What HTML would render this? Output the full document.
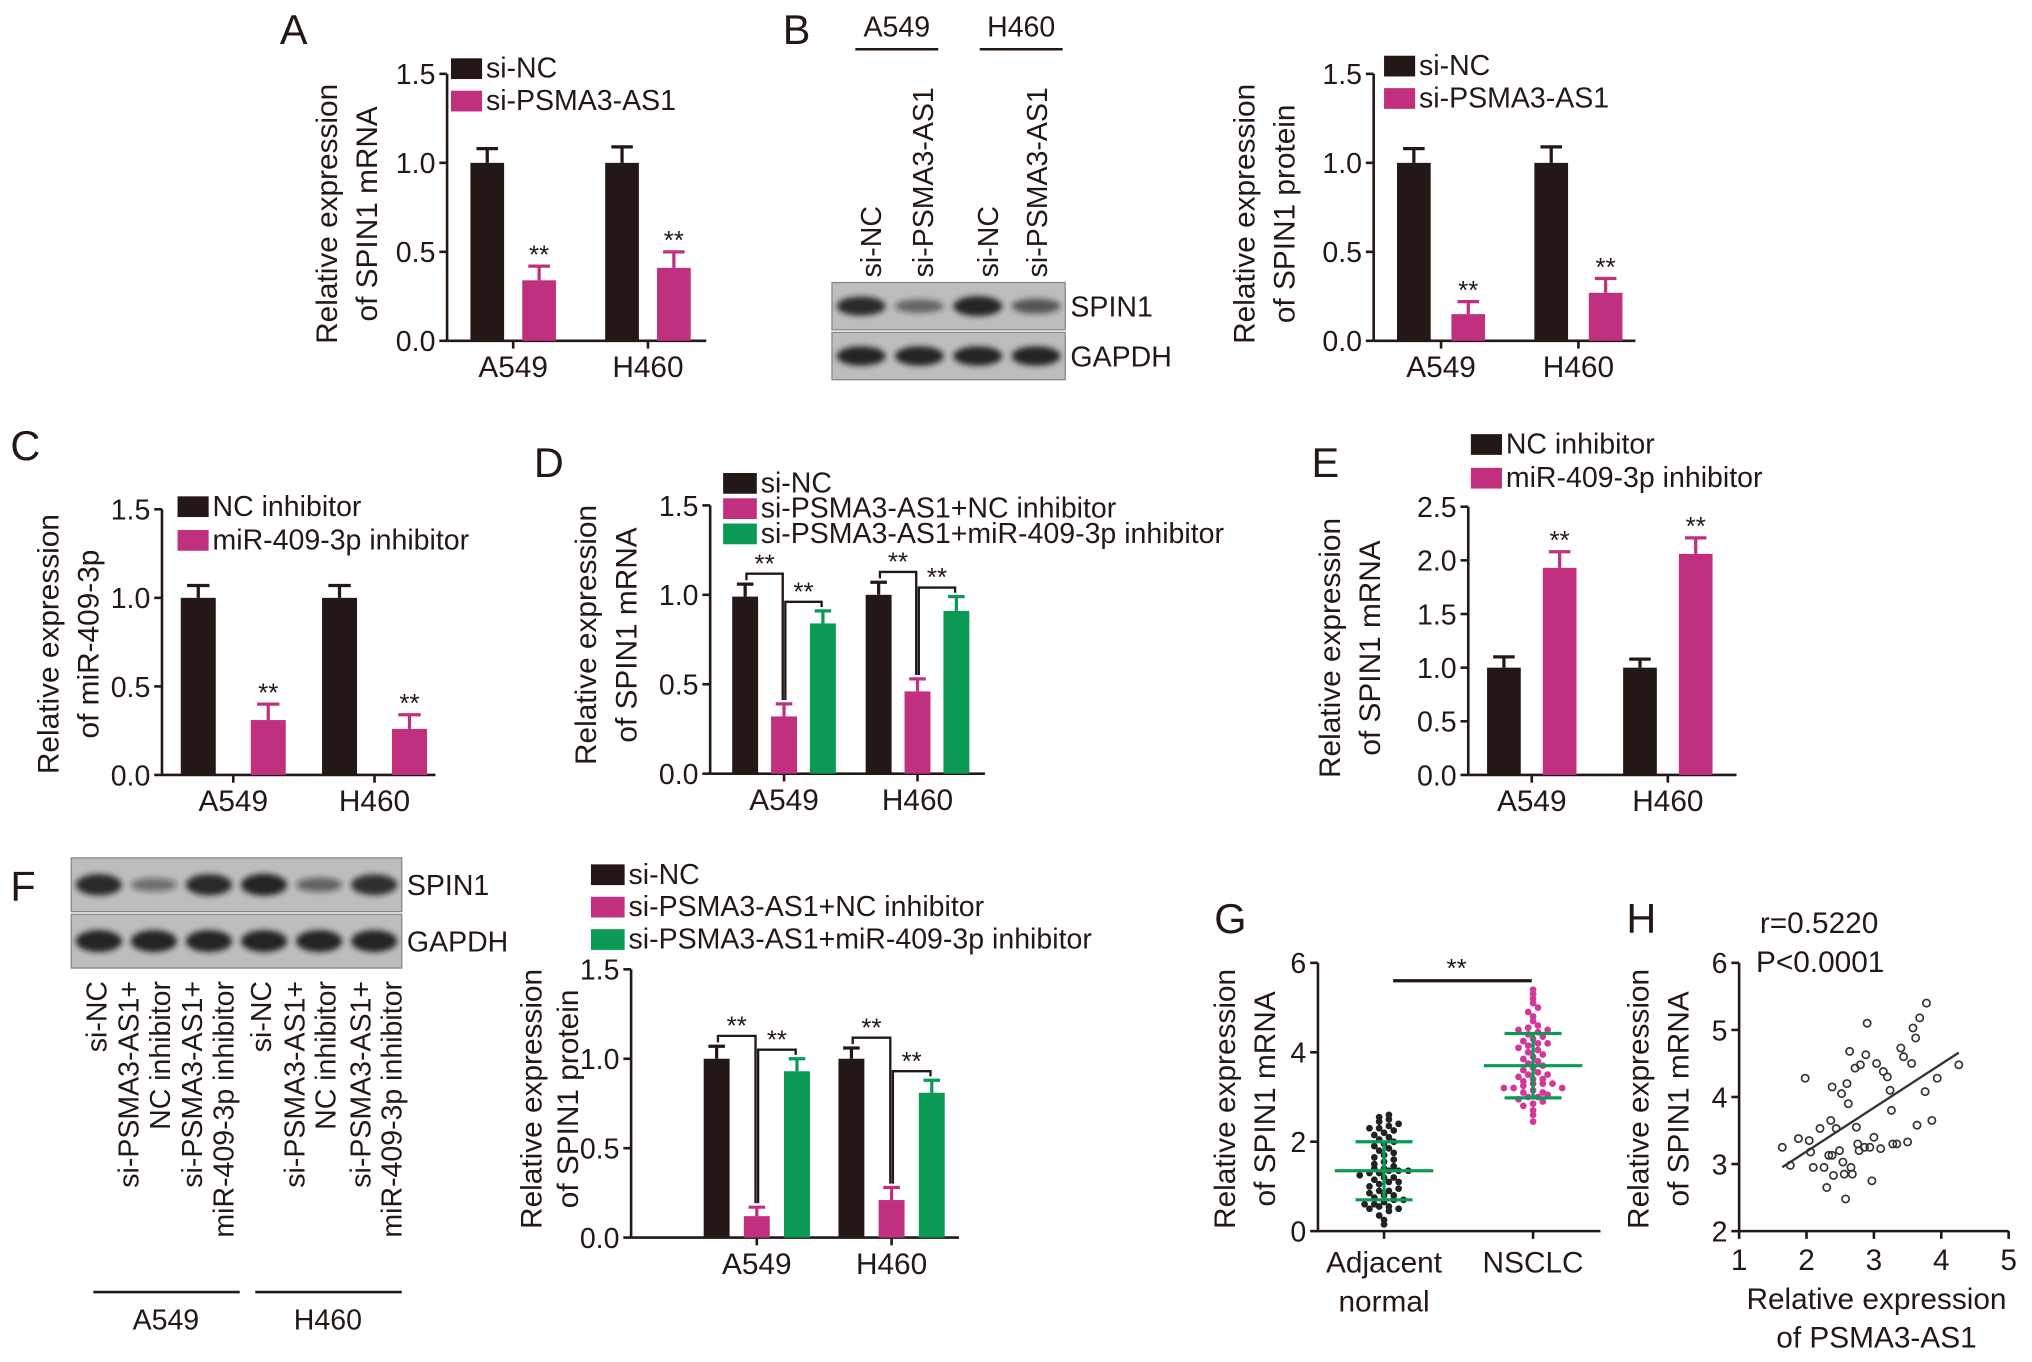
<!DOCTYPE html>
<html><head><meta charset="utf-8"><style>
html,body{margin:0;padding:0;background:#fff;}
svg{display:block;font-family:"Liberation Sans",Arial,sans-serif;}
</style></head><body>
<svg id="fig" width="2032" height="1362" viewBox="0 0 1568 1051" preserveAspectRatio="none" xmlns="http://www.w3.org/2000/svg">
<defs><filter id="blur" x="-20%" y="-50%" width="140%" height="200%"><feGaussianBlur stdDeviation="2.2"/></filter></defs>
<g id="root"></g>
</svg>
<script>
// ---------- DATA ----------
const groupsAB = ["A549","H460"];
const aNC = [1.0,1.0], aNCerr=[0.08,0.09], aSi=[0.34,0.41], aSiErr=[0.08,0.09];
const bNC = [1.0,1.0], bNCerr=[0.08,0.09], bSi=[0.15,0.27], bSiErr=[0.07,0.08];
const cNC = [1.0,1.0], cNCerr=[0.07,0.07], cInh=[0.31,0.26], cInhErr=[0.09,0.08];
const dNC = [0.99,1.0], dNCerr=[0.07,0.07], dSi=[0.32,0.46], dSiErr=[0.07,0.07], dRes=[0.84,0.91], dResErr=[0.07,0.08];
const eNC = [1.0,1.0], eNCerr=[0.1,0.08], eInh=[1.93,2.06], eInhErr=[0.15,0.15];
const fNC = [1.0,1.0], fNCerr=[0.07,0.06], fSi=[0.12,0.21], fSiErr=[0.05,0.07], fRes=[0.93,0.81], fResErr=[0.07,0.07];
const ticks15 = ["0.0","0.5","1.0","1.5"];
const ticks25 = ["0.0","0.5","1.0","1.5","2.0","2.5"];
const gAdjacent = [0.15,0.25,0.35,0.45,0.5,0.55,0.55,0.6,0.6,0.65,0.7,0.7,0.75,0.8,0.85,0.9,0.9,0.95,1.0,1.05,1.1,1.1,1.15,1.2,1.25,1.3,1.3,1.35,1.35,1.35,1.4,1.4,1.45,1.5,1.55,1.6,1.65,1.7,1.75,1.8,1.85,1.9,1.95,2.0,2.05,2.1,2.15,2.2,2.25,2.3,2.3,2.35,2.4,2.45,2.5,2.55,2.6,0.5,0.8,1.2];
const gNSCLC = [2.45,2.6,2.7,2.8,2.85,2.9,2.95,3.0,3.0,3.05,3.1,3.15,3.2,3.2,3.25,3.3,3.3,3.35,3.4,3.45,3.5,3.55,3.6,3.65,3.7,3.75,3.8,3.85,3.9,3.95,4.0,4.05,4.1,4.15,4.2,4.25,4.3,4.35,4.4,4.45,4.5,4.55,4.6,4.7,4.8,4.9,5.0,5.1,5.2,5.3,5.4,3.1,3.3,3.5,3.2,3.4,4.2,4.5];
const gMeans = [1.35,3.7], gSD=[0.65,0.72];
const gTicks = ["0","2","4","6"];
const hX = [1.64,1.76,1.88,1.98,2.04,2.06,2.10,2.2,2.26,2.30,2.33,2.36,2.38,2.38,2.40,2.44,2.49,2.52,2.54,2.56,2.58,2.60,2.62,2.64,2.66,2.68,2.72,2.74,2.76,2.78,2.80,2.86,2.88,2.90,2.94,2.97,3.0,3.04,3.10,3.14,3.20,3.24,3.26,3.28,3.34,3.40,3.44,3.50,3.56,3.58,3.62,3.64,3.68,3.76,3.78,3.86,3.94,4.26];
const hY = [3.25,2.98,3.38,4.28,3.35,3.18,2.95,3.53,2.95,2.65,3.13,3.65,3.13,4.15,2.83,3.53,3.2,4.05,3.03,2.85,2.48,4.2,3.9,4.68,2.95,2.85,4.43,3.55,3.3,3.2,4.48,3.25,4.63,5.1,3.25,2.75,3.4,4.5,3.23,4.38,4.3,4.1,3.8,3.3,3.3,4.73,4.6,3.33,4.5,5.03,4.88,3.58,5.18,4.08,5.4,3.65,4.28,4.48];
const hXTicks = ["1","2","3","4","5"], hYTicks=["2","3","4","5","6"];

// ---------- DRAW ----------
const NS="http://www.w3.org/2000/svg";
const root=document.getElementById('root');
const BLK="#231815",PNK="#c0307f",GRN="#0a9a55";
function mk(tag,attrs,parent){const e=document.createElementNS(NS,tag);for(const k in attrs)e.setAttribute(k,attrs[k]);(parent||root).appendChild(e);return e;}
function txt(s,x,y,opt,parent){const t=mk('text',Object.assign({x:x,y:y,'font-size':22,fill:'#231815'},opt||{}),parent);t.textContent=s;return t;}
function vtxt(s,x,y,anchor,size,parent){const t=mk('text',{x:0,y:0,'font-size':size||22,fill:'#231815','text-anchor':anchor,transform:`translate(${x},${y}) rotate(-90)`},parent);t.textContent=s;return t;}

function axisY(g,ax,y0,yTop,labels){
  const l=mk('line',{x1:ax,y1:y0,x2:ax,y2:yTop,stroke:BLK,'stroke-width':2},g);
  
  labels.forEach((lb,i)=>{const y=y0-(y0-yTop)*i/(labels.length-1);
    mk('line',{x1:ax-6,y1:y,x2:ax,y2:y,stroke:BLK,'stroke-width':2},g);
    const t=txt(lb,ax-9,y+8,{'text-anchor':'end'},g);
    });
}
function barPanel(p){
  const g=mk('g',{});
  
  const ys=v=>p.y0-(p.y0-p.yTop)*v/p.max;
  axisY(g,p.ax,p.y0,p.yTop,p.ticks);
  const xa=mk('line',{x1:p.ax,y1:p.y0,x2:p.axEnd,y2:p.y0,stroke:BLK,'stroke-width':2},g);
  
  const xs=(gi,si)=>p.g0+gi*p.gStep+(si-(p.series.length-1)/2)*p.sStep;
  groupsAB.forEach((lab,gi)=>{const cx=p.g0+gi*p.gStep;
    mk('line',{x1:cx,y1:p.y0,x2:cx,y2:p.y0+6,stroke:BLK,'stroke-width':2},g);
    const t=txt(lab,cx,p.y0+28,{'text-anchor':'middle','font-size':23},g);
    });
  p.series.forEach((s,si)=>{
    s.vals.forEach((v,gi)=>{const cx=xs(gi,si),top=ys(v),et=ys(v+s.err[gi]);
      const r=mk('rect',{x:cx-p.bw/2,y:top,width:p.bw,height:p.y0-top,fill:s.color},g);
      
      mk('line',{x1:cx,y1:top,x2:cx,y2:et,stroke:s.color,'stroke-width':2.5},g);
      mk('line',{x1:cx-p.bw*0.32,y1:et,x2:cx+p.bw*0.32,y2:et,stroke:s.color,'stroke-width':2.5},g);
      if(s.star){const st=txt('**',cx,et-2,{'text-anchor':'middle','font-size':20},g);}
    });
  });
  if(p.brackets){groupsAB.forEach((lab,gi)=>{
    [[0,1],[1,2]].forEach(([a,b],k)=>{const sa=p.series[a],sb=p.series[b];
      const ta=ys(sa.vals[gi]+sa.err[gi]),tb=ys(sb.vals[gi]+sb.err[gi]);
      const yb=Math.min(ta,tb)-(k===0?8:7);const xa1=xs(gi,a)+1,xb1=xs(gi,b)-1;
      const br=mk('polyline',{points:`${xa1},${ta-3} ${xa1},${yb} ${xb1},${yb} ${xb1},${tb-3}`,fill:'none',stroke:BLK,'stroke-width':1.8},g);
      
      txt('**',(xa1+xb1)/2,yb-1,{'text-anchor':'middle','font-size':20},g);});
  });}
  p.title.forEach((ln,i)=>{const t=vtxt(ln,p.titleX+i*(p.titleGap||31),p.titleY,'middle',23,g);});
  p.series.forEach((s,si)=>{const ly=p.legY+si*p.legStep;
    const r=mk('rect',{x:p.legX,y:ly-15,width:p.legW||24,height:16,fill:s.color},g);
    
    const t=txt(s.label,p.legX+(p.legW||24)+3,ly,{'font-size':22},g);});
  return g;
}
function letter(s,x,y){const t=txt(s,x,y,{'font-size':32});}

letter('A',216,34);letter('B',604,34);letter('C',8,355);letter('D',412,368);letter('E',1012,368);letter('F',8,695);letter('G',937,720);letter('H',1255,720);

barPanel({name:'panel-a-chart',ax:345,axEnd:545,y0:263,yTop:57,max:1.5,ticks:ticks15,g0:396,gStep:104,sStep:40,bw:26,
 series:[{key:'si-nc',label:'si-NC',color:BLK,vals:aNC,err:aNCerr},{key:'si-psma3',label:'si-PSMA3-AS1',color:PNK,vals:aSi,err:aSiErr,star:true}],
 title:['Relative expression','of SPIN1 mRNA'],titleX:260,titleY:165,legX:348,legY:60,legStep:25});
barPanel({name:'panel-b-chart',ax:1060,axEnd:1262,y0:263,yTop:57,max:1.5,ticks:ticks15,g0:1112,gStep:106,sStep:42,bw:26,
 series:[{key:'si-nc',label:'si-NC',color:BLK,vals:bNC,err:bNCerr},{key:'si-psma3',label:'si-PSMA3-AS1',color:PNK,vals:bSi,err:bSiErr,star:true}],
 title:['Relative expression','of SPIN1 protein'],titleX:968,titleY:165,legX:1068,legY:58,legStep:25});
barPanel({name:'panel-c-chart',ax:125,axEnd:336,y0:598,yTop:393,max:1.5,ticks:ticks15,g0:180,gStep:109,sStep:54,bw:27,
 series:[{key:'nc-inhibitor',label:'NC inhibitor',color:BLK,vals:cNC,err:cNCerr},{key:'mir-inhibitor',label:'miR-409-3p inhibitor',color:PNK,vals:cInh,err:cInhErr,star:true}],
 title:['Relative expression','of miR-409-3p'],titleX:45,titleY:497,legX:137,legY:398,legStep:26});
barPanel({name:'panel-d-chart',ax:548,axEnd:760,y0:597,yTop:390,max:1.5,ticks:ticks15,g0:605,gStep:103,sStep:30,bw:20,brackets:true,
 series:[{key:'si-nc',label:'si-NC',color:BLK,vals:dNC,err:dNCerr},{key:'si-psma3-nc',label:'si-PSMA3-AS1+NC inhibitor',color:PNK,vals:dSi,err:dSiErr},{key:'si-psma3-mir',label:'si-PSMA3-AS1+miR-409-3p inhibitor',color:GRN,vals:dRes,err:dResErr}],
 title:['Relative expression','of SPIN1 mRNA'],titleX:460,titleY:490,legX:558,legY:380,legStep:19.5,legW:26});
barPanel({name:'panel-e-chart',ax:1133,axEnd:1340,y0:598,yTop:391,max:2.5,ticks:ticks25,g0:1182,gStep:105,sStep:43,bw:26,
 series:[{key:'nc-inhibitor',label:'NC inhibitor',color:BLK,vals:eNC,err:eNCerr},{key:'mir-inhibitor',label:'miR-409-3p inhibitor',color:PNK,vals:eInh,err:eInhErr,star:true}],
 title:['Relative expression','of SPIN1 mRNA'],titleX:1034,titleY:500,legX:1135,legY:350,legStep:26});
barPanel({name:'panel-f-chart',ax:487,axEnd:740,y0:955,yTop:748,max:1.5,ticks:ticks15,g0:584,gStep:104,sStep:31,bw:20,brackets:true,
 series:[{key:'si-nc',label:'si-NC',color:BLK,vals:fNC,err:fNCerr},{key:'si-psma3-nc',label:'si-PSMA3-AS1+NC inhibitor',color:PNK,vals:fSi,err:fSiErr},{key:'si-psma3-mir',label:'si-PSMA3-AS1+miR-409-3p inhibitor',color:GRN,vals:fRes,err:fResErr}],
 title:['Relative expression','of SPIN1 protein'],titleX:418,titleGap:28,titleY:848,legX:456,legY:682,legStep:25,legW:26});

// ---------- BLOTS ----------
function blot(name,x,y,w,h,rows,lanes,intens){
  const g=mk('g',{});
  const rh=h/rows.length;
  rows.forEach((r,ri)=>{mk('rect',{x:x,y:y+ri*rh+1,width:w,height:rh-2,fill:'#bdbdbd',stroke:'#888','stroke-width':1},g);
    for(let i=0;i<lanes;i++){const cx=x+w*(i+0.5)/lanes;const k=intens[ri][i];
      mk('ellipse',{cx:cx,cy:y+ri*rh+rh/2,rx:w/lanes*0.42,ry:rh*0.2*(0.5+k*0.5),fill:'#1a1a1a','fill-opacity':0.35+0.6*k,filter:'url(#blur)'},g);}
    const t=txt(r,x+w+4,y+ri*rh+rh/2+8,{'font-size':22},g);});
  return g;
}
blot('panel-b-blot',642,217,180,77,['SPIN1','GAPDH'],4,[[0.9,0.35,1,0.5],[0.95,0.95,0.95,0.95]]);
['si-NC','si-PSMA3-AS1','si-NC','si-PSMA3-AS1'].forEach((s,i)=>{const t=vtxt(s,[680,720,770,808][i],214,'start',22);});
[['A549',692,660,724],['H460',788,756,820]].forEach(a=>{const t=txt(a[0],a[1],28,{'text-anchor':'middle','font-size':22});mk('line',{x1:a[2],y1:38,x2:a[3],y2:38,stroke:BLK,'stroke-width':2});});

blot('panel-f-blot',55,661,255,87,['SPIN1','GAPDH'],6,[[0.9,0.2,0.9,0.95,0.3,0.85],[0.95,0.95,0.95,0.95,0.95,0.95]]);
[['si-NC',82],['si-PSMA3-AS1+',107],['NC inhibitor',131],['si-PSMA3-AS1+',156],['miR-409-3p inhibitor',180],['si-NC',209],['si-PSMA3-AS1+',235],['NC inhibitor',259],['si-PSMA3-AS1+',286],['miR-409-3p inhibitor',310]].forEach(a=>{
  const t=vtxt(a[0],a[1],757,'end',22);});
[['A549',128,72,185],['H460',253,197,310]].forEach(a=>{mk('line',{x1:a[2],y1:997,x2:a[3],y2:997,stroke:BLK,'stroke-width':2});const t=txt(a[0],a[1],1026,{'text-anchor':'middle','font-size':22});});

// ---------- G scatter ----------
(function(){
  const g=mk('g',{});
  const ax=1017,y0=950,yTop=743,ys=v=>y0-(y0-yTop)*v/6;
  axisY(g,ax,y0,yTop,gTicks);
  mk('line',{x1:ax,y1:y0,x2:1235,y2:y0,stroke:BLK,'stroke-width':2},g);
  const centers=[1068,1183];
  [['Adjacent','normal'],['NSCLC']].forEach((ls,i)=>{mk('line',{x1:centers[i],y1:y0,x2:centers[i],y2:y0+6,stroke:BLK,'stroke-width':2},g);
    ls.forEach((l,j)=>{const t=txt(l,centers[i],y0+32+j*30,{'text-anchor':'middle','font-size':23},g);});});
  [gAdjacent,gNSCLC].forEach((arr,si)=>{
    const bins={};arr.forEach(v=>{const b=Math.round(v/0.13);(bins[b]=bins[b]||[]).push(v);});
    Object.values(bins).forEach(list=>{list.forEach((v,k)=>{const off=(k-(list.length-1)/2)*7.5;
      const c=mk('circle',{cx:centers[si]+off,cy:ys(v),r:2.6,fill:si?'#d4379a':'#222'},g);
      });});
    const m=gMeans[si],sd=gSD[si],cx=centers[si];
    mk('line',{x1:cx-38,y1:ys(m),x2:cx+38,y2:ys(m),stroke:GRN,'stroke-width':2.5},g);
    mk('line',{x1:cx,y1:ys(m-sd),x2:cx,y2:ys(m+sd),stroke:GRN,'stroke-width':2.5},g);
    [m-sd,m+sd].forEach(v=>mk('line',{x1:cx-22,y1:ys(v),x2:cx+22,y2:ys(v),stroke:GRN,'stroke-width':2.5},g));
  });
  mk('line',{x1:1075,y1:ys(5.6),x2:1182,y2:ys(5.6),stroke:BLK,'stroke-width':2.5},g);
  txt('**',1124,ys(5.6)-3,{'text-anchor':'middle','font-size':20},g);
  ['Relative expression','of SPIN1 mRNA'].forEach((ln,i)=>{const t=vtxt(ln,953+i*31,848,'middle',23,g);});
})();

// ---------- H correlation ----------
(function(){
  const g=mk('g',{});
  const ax=1342,y0=950,yTop=743,xR=1550;
  const xs=v=>ax+(xR-ax)*(v-1)/4, ys=v=>y0-(y0-yTop)*(v-2)/4;
  axisY(g,ax,y0,yTop,hYTicks);
  mk('line',{x1:ax,y1:y0,x2:xR,y2:y0,stroke:BLK,'stroke-width':2},g);
  hXTicks.forEach((l,i)=>{const x=ax+(xR-ax)*i/4;mk('line',{x1:x,y1:y0,x2:x,y2:y0+6,stroke:BLK,'stroke-width':2},g);const t=txt(l,x,y0+30,{'text-anchor':'middle','font-size':23},g);});
  hX.forEach((x,i)=>{const c=mk('circle',{cx:xs(x),cy:ys(hY[i]),r:2.8,fill:'none',stroke:'#333','stroke-width':1.3},g);
    });
  const n=hX.length,mx=hX.reduce((a,b)=>a+b)/n,my=hY.reduce((a,b)=>a+b)/n;
  let sxy=0,sxx=0;hX.forEach((x,i)=>{sxy+=(x-mx)*(hY[i]-my);sxx+=(x-mx)*(x-mx);});
  const b=sxy/sxx,a0=my-b*mx,x1=Math.min(...hX),x2=Math.max(...hX);
  const rl=mk('line',{x1:xs(x1),y1:ys(a0+b*x1),x2:xs(x2),y2:ys(a0+b*x2),stroke:'#333','stroke-width':1.8},g);
  
  txt('r=0.5220',1358,720,{'font-size':23},g);txt('P<0.0001',1355,750,{'font-size':23},g);
  ['Relative expression','of SPIN1 mRNA'].forEach((ln,i)=>{const t=vtxt(ln,1272+i*31,848,'middle',23,g);});
  ['Relative expression','of PSMA3-AS1'].forEach((ln,i)=>{const t=txt(ln,1448,1010+i*30,{'text-anchor':'middle','font-size':23},g);});
})();
</script>
</body></html>
